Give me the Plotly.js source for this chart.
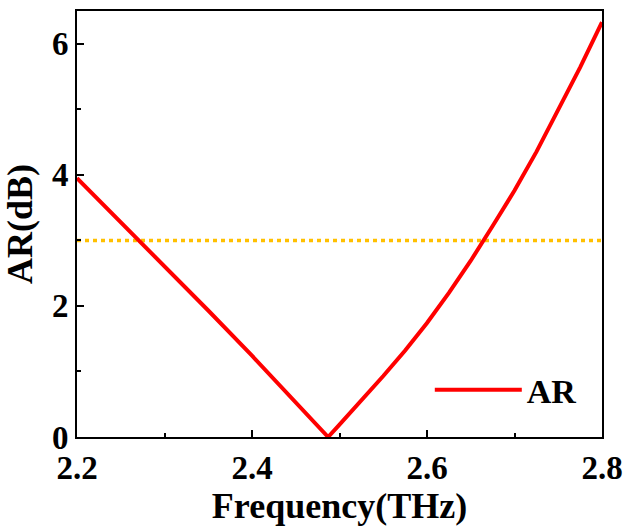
<!DOCTYPE html>
<html>
<head>
<meta charset="utf-8">
<script src="https://cdn.plot.ly/plotly-3.0.1.min.js"></script>
<style>
  html, body { margin: 0; padding: 0; background: #fff; }
  #chart { width: 627px; height: 526px; }
</style>
</head>
<body>
<div id="chart"></div>
<script>
// Axial ratio of the antenna across the band
const freqTHz = [2.20, 2.25, 2.30, 2.35, 2.40, 2.45, 2.487, 2.50, 2.525, 2.55, 2.575, 2.60, 2.625, 2.65, 2.675, 2.70, 2.725, 2.75, 2.775, 2.80];
const arDb    = [3.95, 3.28, 2.60, 1.93, 1.24, 0.52, 0.00,  0.19, 0.55,  0.93, 1.32,  1.74, 2.20,  2.69, 3.22,  3.76, 4.35,  4.98, 5.64,  6.33];

// 3 dB reference level
const refX = [2.2, 2.8];
const refY = [3, 3];

const font = "'Liberation Serif', 'Times New Roman', serif";

const traces = [
  {
    x: refX, y: refY, mode: 'lines', showlegend: false, hoverinfo: 'skip',
    line: { color: '#FFC000', width: 3.5, dash: '4px,4px' }
  },
  {
    x: freqTHz, y: arDb, mode: 'lines', name: 'AR',
    line: { color: '#FF0000', width: 4 }
  }
];

const axisCommon = {
  showline: true, linecolor: '#000', linewidth: 2, mirror: true,
  ticks: 'inside', ticklen: 7, tickwidth: 2, tickcolor: '#000',
  showgrid: false, zeroline: false,
  tickfont: { family: font, size: 33, color: '#000', weight: 'bold' },
  minor: { ticks: 'inside', ticklen: 4, tickwidth: 2, tickcolor: '#000', showgrid: false }
};

const layout = {
  width: 627, height: 526,
  margin: { l: 77, r: 25, t: 11, b: 89 },
  paper_bgcolor: '#fff', plot_bgcolor: '#fff',
  showlegend: true,
  legend: {
    x: 0.672, y: 0.11, xanchor: 'left', yanchor: 'middle',
    bgcolor: 'rgba(0,0,0,0)', itemwidth: 87,
    font: { family: font, size: 34, color: '#000', weight: 'bold' }
  },
  xaxis: Object.assign({}, axisCommon, {
    range: [2.2, 2.8], tickvals: [2.2, 2.4, 2.6, 2.8], ticktext: ['2.2', '2.4', '2.6', '2.8'],
    minor: Object.assign({}, axisCommon.minor, { dtick: 0.1 }),
    title: { text: 'Frequency(THz)', font: { family: font, size: 36, color: '#000', weight: 'bold' }, standoff: 6 }
  }),
  yaxis: Object.assign({}, axisCommon, {
    range: [0, 6.5], tickvals: [0, 2, 4, 6], ticktext: ['0', '2', '4', '6'],
    minor: Object.assign({}, axisCommon.minor, { dtick: 1 }),
    title: { text: 'AR(dB)', font: { family: font, size: 36, color: '#000', weight: 'bold' }, standoff: 8 }
  })
};

Plotly.newPlot('chart', traces, layout, { displayModeBar: false, staticPlot: true });
</script>
</body>
</html>
